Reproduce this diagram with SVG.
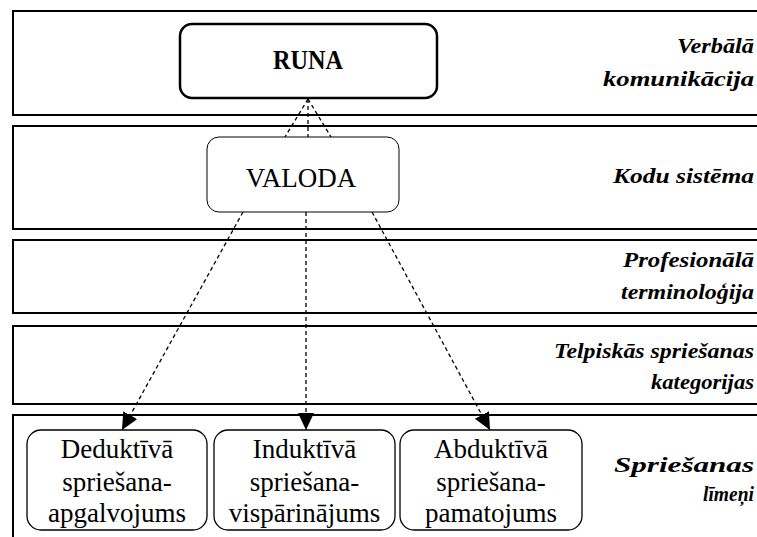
<svg xmlns="http://www.w3.org/2000/svg" width="757" height="537" viewBox="0 0 757 537">
  <style>
    .band { fill: #ffffff; stroke: #000000; stroke-width: 2; }
    .label { font-weight: bold; font-style: italic; font-size: 21px; fill: #000000; text-anchor: end; }
    .box { fill: #ffffff; stroke: #000000; }
    .txt { font-size: 27px; fill: #000000; text-anchor: middle; }
    .conn { fill: none; stroke: #000000; stroke-width: 1.3; stroke-dasharray: 4 3; }
  </style>
  <defs>
    <marker id="arrow" markerUnits="userSpaceOnUse" markerWidth="18" markerHeight="18" refX="17" refY="8" orient="auto">
      <path d="M0,0 L17,8 L0,16 Z" fill="#000000"/>
    </marker>
  </defs>
  <rect width="757" height="537" fill="#ffffff"/>

  <!-- level bands -->
  <g id="bands">
    <rect class="band" x="13" y="11" width="760" height="104"/>
    <rect class="band" x="13" y="126" width="760" height="103"/>
    <rect class="band" x="13" y="240" width="760" height="73"/>
    <rect class="band" x="13" y="326" width="760" height="78"/>
    <rect class="band" x="13" y="415" width="760" height="140"/>
  </g>

  <!-- level labels -->
  <g id="labels" font-family="Liberation Serif, Times New Roman, Times, serif">
    <text class="label" x="754" y="53" textLength="77" lengthAdjust="spacingAndGlyphs">Verbālā</text>
    <text class="label" x="754" y="86" textLength="151" lengthAdjust="spacingAndGlyphs">komunikācija</text>
    <text class="label" x="754" y="183" textLength="141" lengthAdjust="spacingAndGlyphs">Kodu sistēma</text>
    <text class="label" x="754" y="267" textLength="131" lengthAdjust="spacingAndGlyphs">Profesionālā</text>
    <text class="label" x="754" y="299" textLength="133" lengthAdjust="spacingAndGlyphs">terminoloģija</text>
    <text class="label" x="754" y="358" textLength="200" lengthAdjust="spacingAndGlyphs">Telpiskās spriešanas</text>
    <text class="label" x="754" y="389" textLength="103" lengthAdjust="spacingAndGlyphs">kategorijas</text>
    <text class="label" x="754" y="472" textLength="140" lengthAdjust="spacingAndGlyphs">Spriešanas</text>
    <text class="label" x="754" y="501" textLength="51" lengthAdjust="spacingAndGlyphs">līmeņi</text>
  </g>

  <!-- connectors -->
  <g id="connectors">
    <line class="conn" x1="308" y1="99" x2="285" y2="137"/>
    <line class="conn" x1="308" y1="99" x2="308" y2="137"/>
    <line class="conn" x1="308" y1="99" x2="331" y2="137"/>
    <line class="conn" x1="243" y1="212" x2="122" y2="430" marker-end="url(#arrow)"/>
    <line class="conn" x1="306" y1="212" x2="306" y2="430" marker-end="url(#arrow)"/>
    <line class="conn" x1="372" y1="212" x2="490" y2="430" marker-end="url(#arrow)"/>
  </g>

  <g id="runa" font-family="Liberation Serif, Times New Roman, Times, serif">
    <rect class="box" x="180" y="24" width="257" height="74" rx="12" stroke-width="2.5"/>
    <text class="txt" x="308" y="69" font-weight="bold" font-size="23" textLength="70" lengthAdjust="spacingAndGlyphs">RUNA</text>
  </g>

  <g id="valoda" font-family="Liberation Serif, Times New Roman, Times, serif">
    <rect class="box" x="207" y="137" width="192" height="75" rx="12" stroke-width="1"/>
    <text class="txt" x="301" y="187" font-size="26">VALODA</text>
  </g>

  <g id="deduktiva" font-family="Liberation Serif, Times New Roman, Times, serif">
    <rect class="box" x="27" y="430" width="180" height="100" rx="14" stroke-width="1.3"/>
    <text class="txt" x="117" y="458">Deduktīvā</text>
    <text class="txt" x="117" y="491">spriešana-</text>
    <text class="txt" x="117" y="522">apgalvojums</text>
  </g>

  <g id="induktiva" font-family="Liberation Serif, Times New Roman, Times, serif">
    <rect class="box" x="214" y="430" width="181" height="100" rx="14" stroke-width="1.3"/>
    <text class="txt" x="304.5" y="458">Induktīvā</text>
    <text class="txt" x="304.5" y="491">spriešana-</text>
    <text class="txt" x="304.5" y="522">vispārinājums</text>
  </g>

  <g id="abduktiva" font-family="Liberation Serif, Times New Roman, Times, serif">
    <rect class="box" x="400" y="430" width="182" height="100" rx="14" stroke-width="1.3"/>
    <text class="txt" x="491" y="458">Abduktīvā</text>
    <text class="txt" x="491" y="491">spriešana-</text>
    <text class="txt" x="491" y="522">pamatojums</text>
  </g>
</svg>
